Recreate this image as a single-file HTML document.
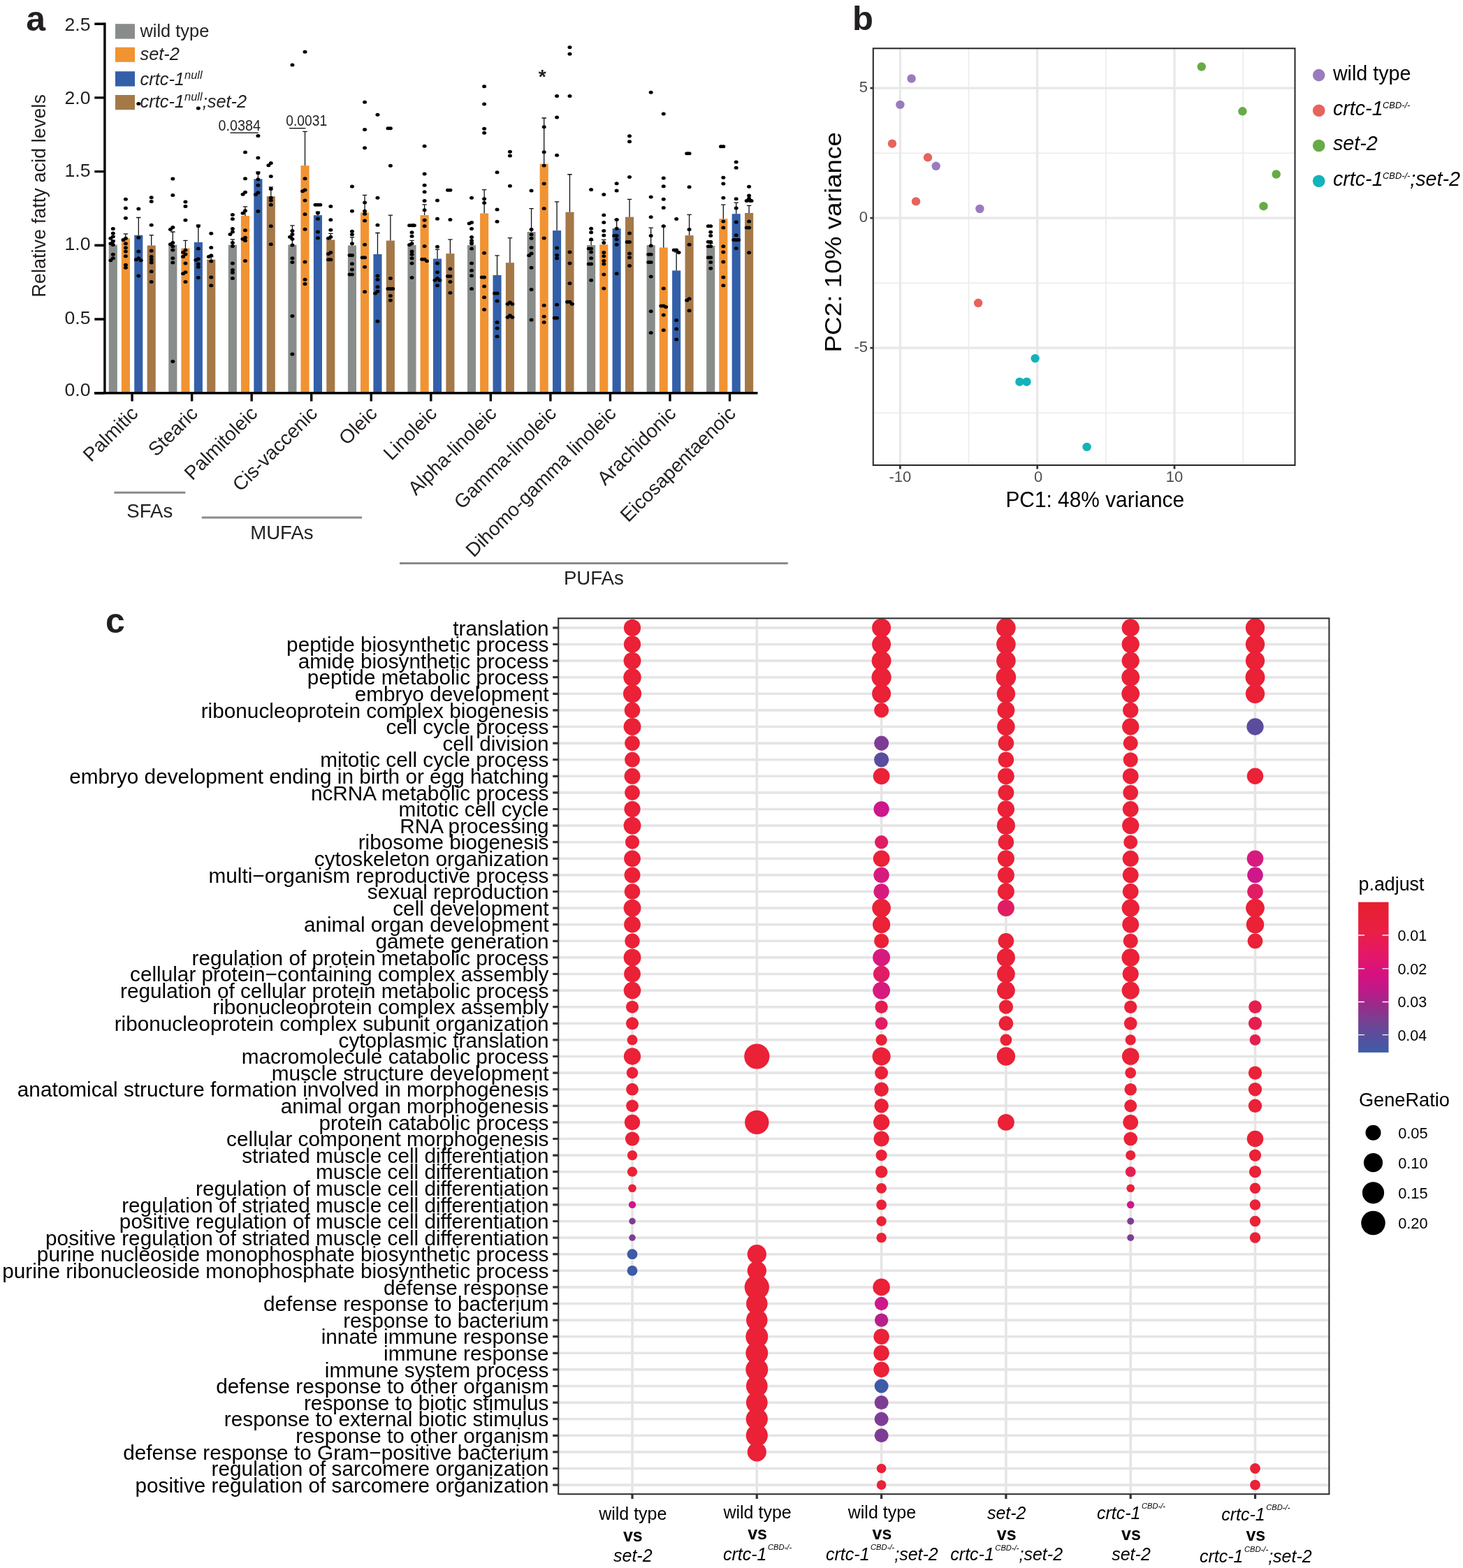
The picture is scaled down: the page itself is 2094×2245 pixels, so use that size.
<!DOCTYPE html>
<html><head><meta charset="utf-8"><title>Figure</title>
<style>
html,body{margin:0;padding:0;background:#fff;}
body{width:2094px;height:2245px;overflow:hidden;}
svg{display:block;}
</style></head>
<body>
<svg width="2094" height="2245" viewBox="0 0 2094 2245">
<rect width="2094" height="2245" fill="#fff"/>
<g font-family="'Liberation Sans', Arial, Helvetica, sans-serif">
<text x="37.3" y="44" font-size="50" font-weight="bold" fill="#231f20">a</text>
<rect x="155.75" y="350.60" width="12.1" height="211.40" fill="#898d8a"/>
<rect x="173.85" y="341.30" width="12.1" height="220.70" fill="#f19332"/>
<rect x="192.25" y="336.65" width="12.1" height="225.35" fill="#335fa9"/>
<rect x="210.65" y="351.45" width="12.1" height="210.55" fill="#a57848"/>
<rect x="241.29" y="350.60" width="12.1" height="211.40" fill="#898d8a"/>
<rect x="259.39" y="355.46" width="12.1" height="206.54" fill="#f19332"/>
<rect x="277.79" y="346.79" width="12.1" height="215.21" fill="#335fa9"/>
<rect x="296.19" y="371.53" width="12.1" height="190.47" fill="#a57848"/>
<rect x="326.83" y="350.60" width="12.1" height="211.40" fill="#898d8a"/>
<rect x="344.93" y="308.95" width="12.1" height="253.05" fill="#f19332"/>
<rect x="363.33" y="256.32" width="12.1" height="305.68" fill="#335fa9"/>
<rect x="381.73" y="281.05" width="12.1" height="280.95" fill="#a57848"/>
<rect x="412.37" y="350.60" width="12.1" height="211.40" fill="#898d8a"/>
<rect x="430.47" y="237.08" width="12.1" height="324.92" fill="#f19332"/>
<rect x="448.87" y="308.11" width="12.1" height="253.89" fill="#335fa9"/>
<rect x="467.27" y="343.41" width="12.1" height="218.59" fill="#a57848"/>
<rect x="497.91" y="351.45" width="12.1" height="210.55" fill="#898d8a"/>
<rect x="516.01" y="304.30" width="12.1" height="257.70" fill="#f19332"/>
<rect x="534.41" y="363.92" width="12.1" height="198.08" fill="#335fa9"/>
<rect x="552.81" y="344.47" width="12.1" height="217.53" fill="#a57848"/>
<rect x="583.45" y="351.02" width="12.1" height="210.98" fill="#898d8a"/>
<rect x="601.55" y="308.11" width="12.1" height="253.89" fill="#f19332"/>
<rect x="619.95" y="370.47" width="12.1" height="191.53" fill="#335fa9"/>
<rect x="638.35" y="363.07" width="12.1" height="198.93" fill="#a57848"/>
<rect x="668.99" y="351.02" width="12.1" height="210.98" fill="#898d8a"/>
<rect x="687.09" y="305.36" width="12.1" height="256.64" fill="#f19332"/>
<rect x="705.49" y="393.94" width="12.1" height="168.06" fill="#335fa9"/>
<rect x="723.89" y="376.18" width="12.1" height="185.82" fill="#a57848"/>
<rect x="754.53" y="332.00" width="12.1" height="230.00" fill="#898d8a"/>
<rect x="772.63" y="234.54" width="12.1" height="327.46" fill="#f19332"/>
<rect x="791.03" y="330.09" width="12.1" height="231.91" fill="#335fa9"/>
<rect x="809.43" y="303.67" width="12.1" height="258.33" fill="#a57848"/>
<rect x="840.07" y="351.02" width="12.1" height="210.98" fill="#898d8a"/>
<rect x="858.17" y="350.18" width="12.1" height="211.82" fill="#f19332"/>
<rect x="876.57" y="327.13" width="12.1" height="234.87" fill="#335fa9"/>
<rect x="894.97" y="310.65" width="12.1" height="251.35" fill="#a57848"/>
<rect x="925.61" y="351.02" width="12.1" height="210.98" fill="#898d8a"/>
<rect x="943.71" y="354.41" width="12.1" height="207.59" fill="#f19332"/>
<rect x="962.11" y="387.38" width="12.1" height="174.62" fill="#335fa9"/>
<rect x="980.51" y="337.07" width="12.1" height="224.93" fill="#a57848"/>
<rect x="1011.15" y="351.87" width="12.1" height="210.13" fill="#898d8a"/>
<rect x="1029.25" y="313.18" width="12.1" height="248.82" fill="#f19332"/>
<rect x="1047.65" y="306.21" width="12.1" height="255.79" fill="#335fa9"/>
<rect x="1066.05" y="304.94" width="12.1" height="257.06" fill="#a57848"/>
<path d="M161.80 350.60V344.26M158.60 344.26H165.00M179.90 341.30V334.96M176.70 334.96H183.10M198.30 336.65V311.49M195.10 311.49H201.50M216.70 351.45V336.65M213.50 336.65H219.90M247.34 350.60V332.00M244.14 332.00H250.54M265.44 355.46V344.47M262.24 344.47H268.64M283.84 346.79V322.27M280.64 322.27H287.04M302.24 371.53V367.51M299.04 367.51H305.44M332.88 350.60V342.78M329.68 342.78H336.08M350.98 308.95V295.85M347.78 295.85H354.18M369.38 256.32V246.17M366.18 246.17H372.58M387.78 281.05V267.94M384.58 267.94H390.98M418.42 350.60V322.91M415.22 322.91H421.62M436.52 237.08V188.46M433.32 188.46H439.72M454.92 308.11V303.03M451.72 303.03H458.12M473.32 343.41V334.32M470.12 334.32H476.52M503.96 351.45V339.61M500.76 339.61H507.16M522.06 304.30V279.36M518.86 279.36H525.26M540.46 363.92V333.48M537.26 333.48H543.66M558.86 344.47V308.11M555.66 308.11H562.06M589.50 351.02V344.47M586.30 344.47H592.70M607.60 308.11V292.89M604.40 292.89H610.80M626.00 370.47V357.15M622.80 357.15H629.20M644.40 363.07V342.78M641.20 342.78H647.60M675.04 351.02V347.43M671.84 347.43H678.24M693.14 305.36V271.54M689.94 271.54H696.34M711.54 393.94V365.82M708.34 365.82H714.74M729.94 376.18V340.66M726.74 340.66H733.14M760.58 332.00V298.60M757.38 298.60H763.78M778.68 234.54V169.01M775.48 169.01H781.88M797.08 330.09V288.87M793.88 288.87H800.28M815.48 303.67V249.76M812.28 249.76H818.68M846.12 351.02V344.47M842.92 344.47H849.32M864.22 350.18V343.41M861.02 343.41H867.42M882.62 327.13V314.45M879.42 314.45H885.82M901.02 310.65V285.28M897.82 285.28H904.22M931.66 351.02V326.08M928.46 326.08H934.86M949.76 354.41V323.75M946.56 323.75H952.96M968.16 387.38V360.96M964.96 360.96H971.36M986.56 337.07V307.47M983.36 307.47H989.76M1017.20 351.87V348.49M1014.00 348.49H1020.40M1035.30 313.18V293.10M1032.10 293.10H1038.50M1053.70 306.21V290.14M1050.50 290.14H1056.90M1072.10 304.94V294.37M1068.90 294.37H1075.30" stroke="#111" stroke-width="1.3" fill="none"/>
<g fill="#000"><ellipse cx="161.80" cy="327.56" rx="3.0" ry="2.5"/><ellipse cx="161.80" cy="333.90" rx="3.0" ry="2.5"/><ellipse cx="161.80" cy="338.76" rx="3.0" ry="2.5"/><ellipse cx="158.40" cy="341.30" rx="3.0" ry="2.5"/><ellipse cx="161.80" cy="345.53" rx="3.0" ry="2.5"/><ellipse cx="158.40" cy="348.70" rx="3.0" ry="2.5"/><ellipse cx="161.80" cy="350.60" rx="3.0" ry="2.5"/><ellipse cx="161.80" cy="364.34" rx="3.0" ry="2.5"/><ellipse cx="161.80" cy="369.63" rx="3.0" ry="2.5"/><ellipse cx="158.40" cy="372.80" rx="3.0" ry="2.5"/><ellipse cx="179.90" cy="285.28" rx="3.0" ry="2.5"/><ellipse cx="179.90" cy="297.96" rx="3.0" ry="2.5"/><ellipse cx="179.90" cy="312.34" rx="3.0" ry="2.5"/><ellipse cx="179.90" cy="341.30" rx="3.0" ry="2.5"/><ellipse cx="176.50" cy="343.41" rx="3.0" ry="2.5"/><ellipse cx="179.90" cy="348.70" rx="3.0" ry="2.5"/><ellipse cx="179.90" cy="354.83" rx="3.0" ry="2.5"/><ellipse cx="179.90" cy="360.11" rx="3.0" ry="2.5"/><ellipse cx="179.90" cy="366.67" rx="3.0" ry="2.5"/><ellipse cx="179.90" cy="379.14" rx="3.0" ry="2.5"/><ellipse cx="179.90" cy="383.37" rx="3.0" ry="2.5"/><ellipse cx="198.30" cy="148.50" rx="3.0" ry="2.5"/><ellipse cx="198.30" cy="299.02" rx="3.0" ry="2.5"/><ellipse cx="198.30" cy="340.24" rx="3.0" ry="2.5"/><ellipse cx="198.30" cy="360.11" rx="3.0" ry="2.5"/><ellipse cx="198.30" cy="369.63" rx="3.0" ry="2.5"/><ellipse cx="194.90" cy="371.74" rx="3.0" ry="2.5"/><ellipse cx="201.70" cy="372.80" rx="3.0" ry="2.5"/><ellipse cx="198.30" cy="394.99" rx="3.0" ry="2.5"/><ellipse cx="216.70" cy="282.74" rx="3.0" ry="2.5"/><ellipse cx="216.70" cy="288.45" rx="3.0" ry="2.5"/><ellipse cx="216.70" cy="322.27" rx="3.0" ry="2.5"/><ellipse cx="216.70" cy="359.06" rx="3.0" ry="2.5"/><ellipse cx="216.70" cy="367.51" rx="3.0" ry="2.5"/><ellipse cx="216.70" cy="371.74" rx="3.0" ry="2.5"/><ellipse cx="216.70" cy="375.97" rx="3.0" ry="2.5"/><ellipse cx="216.70" cy="388.65" rx="3.0" ry="2.5"/><ellipse cx="216.70" cy="403.45" rx="3.0" ry="2.5"/><ellipse cx="247.34" cy="256.10" rx="3.0" ry="2.5"/><ellipse cx="247.34" cy="279.57" rx="3.0" ry="2.5"/><ellipse cx="247.34" cy="325.44" rx="3.0" ry="2.5"/><ellipse cx="243.94" cy="328.61" rx="3.0" ry="2.5"/><ellipse cx="247.34" cy="347.43" rx="3.0" ry="2.5"/><ellipse cx="243.94" cy="349.75" rx="3.0" ry="2.5"/><ellipse cx="247.34" cy="352.71" rx="3.0" ry="2.5"/><ellipse cx="247.34" cy="358.00" rx="3.0" ry="2.5"/><ellipse cx="247.34" cy="369.63" rx="3.0" ry="2.5"/><ellipse cx="247.34" cy="375.97" rx="3.0" ry="2.5"/><ellipse cx="247.34" cy="517.61" rx="3.0" ry="2.5"/><ellipse cx="265.44" cy="289.08" rx="3.0" ry="2.5"/><ellipse cx="265.44" cy="295.42" rx="3.0" ry="2.5"/><ellipse cx="265.44" cy="315.30" rx="3.0" ry="2.5"/><ellipse cx="265.44" cy="358.00" rx="3.0" ry="2.5"/><ellipse cx="262.04" cy="361.17" rx="3.0" ry="2.5"/><ellipse cx="265.44" cy="363.92" rx="3.0" ry="2.5"/><ellipse cx="262.04" cy="367.51" rx="3.0" ry="2.5"/><ellipse cx="265.44" cy="377.02" rx="3.0" ry="2.5"/><ellipse cx="265.44" cy="389.71" rx="3.0" ry="2.5"/><ellipse cx="262.04" cy="391.82" rx="3.0" ry="2.5"/><ellipse cx="265.44" cy="403.45" rx="3.0" ry="2.5"/><ellipse cx="283.84" cy="155.06" rx="3.0" ry="2.5"/><ellipse cx="283.84" cy="323.75" rx="3.0" ry="2.5"/><ellipse cx="283.84" cy="356.10" rx="3.0" ry="2.5"/><ellipse cx="283.84" cy="370.68" rx="3.0" ry="2.5"/><ellipse cx="280.44" cy="372.37" rx="3.0" ry="2.5"/><ellipse cx="283.84" cy="378.08" rx="3.0" ry="2.5"/><ellipse cx="283.84" cy="382.31" rx="3.0" ry="2.5"/><ellipse cx="283.84" cy="397.53" rx="3.0" ry="2.5"/><ellipse cx="302.24" cy="334.32" rx="3.0" ry="2.5"/><ellipse cx="302.24" cy="354.41" rx="3.0" ry="2.5"/><ellipse cx="302.24" cy="365.82" rx="3.0" ry="2.5"/><ellipse cx="298.84" cy="367.51" rx="3.0" ry="2.5"/><ellipse cx="302.24" cy="374.07" rx="3.0" ry="2.5"/><ellipse cx="302.24" cy="396.90" rx="3.0" ry="2.5"/><ellipse cx="302.24" cy="408.74" rx="3.0" ry="2.5"/><ellipse cx="332.88" cy="307.47" rx="3.0" ry="2.5"/><ellipse cx="332.88" cy="313.61" rx="3.0" ry="2.5"/><ellipse cx="332.88" cy="327.56" rx="3.0" ry="2.5"/><ellipse cx="332.88" cy="332.00" rx="3.0" ry="2.5"/><ellipse cx="329.48" cy="335.59" rx="3.0" ry="2.5"/><ellipse cx="332.88" cy="347.43" rx="3.0" ry="2.5"/><ellipse cx="332.88" cy="352.50" rx="3.0" ry="2.5"/><ellipse cx="332.88" cy="377.02" rx="3.0" ry="2.5"/><ellipse cx="332.88" cy="386.54" rx="3.0" ry="2.5"/><ellipse cx="332.88" cy="390.34" rx="3.0" ry="2.5"/><ellipse cx="332.88" cy="398.38" rx="3.0" ry="2.5"/><ellipse cx="350.98" cy="218.05" rx="3.0" ry="2.5"/><ellipse cx="350.98" cy="255.68" rx="3.0" ry="2.5"/><ellipse cx="350.98" cy="275.13" rx="3.0" ry="2.5"/><ellipse cx="347.58" cy="278.30" rx="3.0" ry="2.5"/><ellipse cx="350.98" cy="301.77" rx="3.0" ry="2.5"/><ellipse cx="347.58" cy="305.36" rx="3.0" ry="2.5"/><ellipse cx="350.98" cy="329.67" rx="3.0" ry="2.5"/><ellipse cx="350.98" cy="340.24" rx="3.0" ry="2.5"/><ellipse cx="347.58" cy="342.36" rx="3.0" ry="2.5"/><ellipse cx="350.98" cy="344.47" rx="3.0" ry="2.5"/><ellipse cx="350.98" cy="373.43" rx="3.0" ry="2.5"/><ellipse cx="369.38" cy="194.38" rx="3.0" ry="2.5"/><ellipse cx="369.38" cy="226.09" rx="3.0" ry="2.5"/><ellipse cx="369.38" cy="247.65" rx="3.0" ry="2.5"/><ellipse cx="369.38" cy="256.74" rx="3.0" ry="2.5"/><ellipse cx="369.38" cy="265.19" rx="3.0" ry="2.5"/><ellipse cx="369.38" cy="275.76" rx="3.0" ry="2.5"/><ellipse cx="365.98" cy="278.51" rx="3.0" ry="2.5"/><ellipse cx="369.38" cy="302.61" rx="3.0" ry="2.5"/><ellipse cx="387.78" cy="233.48" rx="3.0" ry="2.5"/><ellipse cx="384.38" cy="236.66" rx="3.0" ry="2.5"/><ellipse cx="387.78" cy="252.51" rx="3.0" ry="2.5"/><ellipse cx="387.78" cy="270.48" rx="3.0" ry="2.5"/><ellipse cx="387.78" cy="283.16" rx="3.0" ry="2.5"/><ellipse cx="387.78" cy="286.97" rx="3.0" ry="2.5"/><ellipse cx="387.78" cy="293.31" rx="3.0" ry="2.5"/><ellipse cx="387.78" cy="323.75" rx="3.0" ry="2.5"/><ellipse cx="387.78" cy="349.75" rx="3.0" ry="2.5"/><ellipse cx="418.42" cy="92.90" rx="3.0" ry="2.5"/><ellipse cx="418.42" cy="330.52" rx="3.0" ry="2.5"/><ellipse cx="418.42" cy="335.59" rx="3.0" ry="2.5"/><ellipse cx="415.02" cy="339.18" rx="3.0" ry="2.5"/><ellipse cx="418.42" cy="342.36" rx="3.0" ry="2.5"/><ellipse cx="418.42" cy="351.02" rx="3.0" ry="2.5"/><ellipse cx="418.42" cy="369.63" rx="3.0" ry="2.5"/><ellipse cx="418.42" cy="375.55" rx="3.0" ry="2.5"/><ellipse cx="418.42" cy="452.49" rx="3.0" ry="2.5"/><ellipse cx="418.42" cy="507.04" rx="3.0" ry="2.5"/><ellipse cx="436.52" cy="74.30" rx="3.0" ry="2.5"/><ellipse cx="436.52" cy="255.68" rx="3.0" ry="2.5"/><ellipse cx="436.52" cy="271.96" rx="3.0" ry="2.5"/><ellipse cx="433.12" cy="273.65" rx="3.0" ry="2.5"/><ellipse cx="436.52" cy="286.97" rx="3.0" ry="2.5"/><ellipse cx="436.52" cy="306.84" rx="3.0" ry="2.5"/><ellipse cx="436.52" cy="328.19" rx="3.0" ry="2.5"/><ellipse cx="436.52" cy="374.91" rx="3.0" ry="2.5"/><ellipse cx="436.52" cy="400.28" rx="3.0" ry="2.5"/><ellipse cx="436.52" cy="406.62" rx="3.0" ry="2.5"/><ellipse cx="454.92" cy="293.31" rx="3.0" ry="2.5"/><ellipse cx="451.52" cy="293.31" rx="3.0" ry="2.5"/><ellipse cx="458.32" cy="293.31" rx="3.0" ry="2.5"/><ellipse cx="454.92" cy="304.94" rx="3.0" ry="2.5"/><ellipse cx="454.92" cy="313.18" rx="3.0" ry="2.5"/><ellipse cx="454.92" cy="332.00" rx="3.0" ry="2.5"/><ellipse cx="454.92" cy="340.66" rx="3.0" ry="2.5"/><ellipse cx="473.32" cy="295.42" rx="3.0" ry="2.5"/><ellipse cx="473.32" cy="314.87" rx="3.0" ry="2.5"/><ellipse cx="473.32" cy="329.25" rx="3.0" ry="2.5"/><ellipse cx="473.32" cy="339.18" rx="3.0" ry="2.5"/><ellipse cx="469.92" cy="341.30" rx="3.0" ry="2.5"/><ellipse cx="473.32" cy="361.38" rx="3.0" ry="2.5"/><ellipse cx="469.92" cy="363.50" rx="3.0" ry="2.5"/><ellipse cx="473.32" cy="371.74" rx="3.0" ry="2.5"/><ellipse cx="469.92" cy="371.74" rx="3.0" ry="2.5"/><ellipse cx="503.96" cy="266.89" rx="3.0" ry="2.5"/><ellipse cx="503.96" cy="302.19" rx="3.0" ry="2.5"/><ellipse cx="503.96" cy="331.36" rx="3.0" ry="2.5"/><ellipse cx="503.96" cy="335.80" rx="3.0" ry="2.5"/><ellipse cx="503.96" cy="348.70" rx="3.0" ry="2.5"/><ellipse cx="503.96" cy="365.40" rx="3.0" ry="2.5"/><ellipse cx="500.56" cy="365.40" rx="3.0" ry="2.5"/><ellipse cx="503.96" cy="377.87" rx="3.0" ry="2.5"/><ellipse cx="503.96" cy="386.12" rx="3.0" ry="2.5"/><ellipse cx="503.96" cy="392.88" rx="3.0" ry="2.5"/><ellipse cx="500.56" cy="392.88" rx="3.0" ry="2.5"/><ellipse cx="522.06" cy="146.18" rx="3.0" ry="2.5"/><ellipse cx="522.06" cy="185.50" rx="3.0" ry="2.5"/><ellipse cx="522.06" cy="211.71" rx="3.0" ry="2.5"/><ellipse cx="522.06" cy="289.93" rx="3.0" ry="2.5"/><ellipse cx="522.06" cy="302.19" rx="3.0" ry="2.5"/><ellipse cx="522.06" cy="306.21" rx="3.0" ry="2.5"/><ellipse cx="522.06" cy="315.93" rx="3.0" ry="2.5"/><ellipse cx="522.06" cy="350.18" rx="3.0" ry="2.5"/><ellipse cx="522.06" cy="368.78" rx="3.0" ry="2.5"/><ellipse cx="518.66" cy="368.78" rx="3.0" ry="2.5"/><ellipse cx="522.06" cy="382.31" rx="3.0" ry="2.5"/><ellipse cx="522.06" cy="417.83" rx="3.0" ry="2.5"/><ellipse cx="540.46" cy="164.15" rx="3.0" ry="2.5"/><ellipse cx="540.46" cy="283.16" rx="3.0" ry="2.5"/><ellipse cx="540.46" cy="322.27" rx="3.0" ry="2.5"/><ellipse cx="540.46" cy="394.99" rx="3.0" ry="2.5"/><ellipse cx="540.46" cy="400.28" rx="3.0" ry="2.5"/><ellipse cx="540.46" cy="410.85" rx="3.0" ry="2.5"/><ellipse cx="540.46" cy="417.19" rx="3.0" ry="2.5"/><ellipse cx="537.06" cy="419.94" rx="3.0" ry="2.5"/><ellipse cx="540.46" cy="460.11" rx="3.0" ry="2.5"/><ellipse cx="558.86" cy="183.81" rx="3.0" ry="2.5"/><ellipse cx="555.46" cy="183.81" rx="3.0" ry="2.5"/><ellipse cx="558.86" cy="237.29" rx="3.0" ry="2.5"/><ellipse cx="558.86" cy="398.38" rx="3.0" ry="2.5"/><ellipse cx="558.86" cy="413.60" rx="3.0" ry="2.5"/><ellipse cx="555.46" cy="413.60" rx="3.0" ry="2.5"/><ellipse cx="562.26" cy="413.60" rx="3.0" ry="2.5"/><ellipse cx="558.86" cy="423.53" rx="3.0" ry="2.5"/><ellipse cx="558.86" cy="429.88" rx="3.0" ry="2.5"/><ellipse cx="589.50" cy="322.70" rx="3.0" ry="2.5"/><ellipse cx="586.10" cy="322.70" rx="3.0" ry="2.5"/><ellipse cx="592.90" cy="322.70" rx="3.0" ry="2.5"/><ellipse cx="591.20" cy="322.70" rx="3.0" ry="2.5"/><ellipse cx="589.50" cy="332.84" rx="3.0" ry="2.5"/><ellipse cx="589.50" cy="338.13" rx="3.0" ry="2.5"/><ellipse cx="589.50" cy="348.70" rx="3.0" ry="2.5"/><ellipse cx="586.10" cy="350.60" rx="3.0" ry="2.5"/><ellipse cx="589.50" cy="360.11" rx="3.0" ry="2.5"/><ellipse cx="589.50" cy="364.34" rx="3.0" ry="2.5"/><ellipse cx="589.50" cy="369.63" rx="3.0" ry="2.5"/><ellipse cx="589.50" cy="377.02" rx="3.0" ry="2.5"/><ellipse cx="589.50" cy="397.53" rx="3.0" ry="2.5"/><ellipse cx="607.60" cy="209.17" rx="3.0" ry="2.5"/><ellipse cx="607.60" cy="248.92" rx="3.0" ry="2.5"/><ellipse cx="607.60" cy="265.19" rx="3.0" ry="2.5"/><ellipse cx="607.60" cy="274.71" rx="3.0" ry="2.5"/><ellipse cx="607.60" cy="287.39" rx="3.0" ry="2.5"/><ellipse cx="607.60" cy="300.71" rx="3.0" ry="2.5"/><ellipse cx="607.60" cy="315.30" rx="3.0" ry="2.5"/><ellipse cx="607.60" cy="323.75" rx="3.0" ry="2.5"/><ellipse cx="607.60" cy="352.50" rx="3.0" ry="2.5"/><ellipse cx="607.60" cy="371.32" rx="3.0" ry="2.5"/><ellipse cx="604.20" cy="371.32" rx="3.0" ry="2.5"/><ellipse cx="611.00" cy="373.85" rx="3.0" ry="2.5"/><ellipse cx="626.00" cy="286.97" rx="3.0" ry="2.5"/><ellipse cx="626.00" cy="313.18" rx="3.0" ry="2.5"/><ellipse cx="626.00" cy="353.35" rx="3.0" ry="2.5"/><ellipse cx="626.00" cy="377.02" rx="3.0" ry="2.5"/><ellipse cx="626.00" cy="389.71" rx="3.0" ry="2.5"/><ellipse cx="626.00" cy="398.38" rx="3.0" ry="2.5"/><ellipse cx="622.60" cy="401.34" rx="3.0" ry="2.5"/><ellipse cx="629.40" cy="401.34" rx="3.0" ry="2.5"/><ellipse cx="626.00" cy="408.74" rx="3.0" ry="2.5"/><ellipse cx="644.40" cy="272.17" rx="3.0" ry="2.5"/><ellipse cx="641.00" cy="272.17" rx="3.0" ry="2.5"/><ellipse cx="644.40" cy="314.45" rx="3.0" ry="2.5"/><ellipse cx="644.40" cy="385.06" rx="3.0" ry="2.5"/><ellipse cx="644.40" cy="395.42" rx="3.0" ry="2.5"/><ellipse cx="641.00" cy="395.42" rx="3.0" ry="2.5"/><ellipse cx="644.40" cy="403.45" rx="3.0" ry="2.5"/><ellipse cx="644.40" cy="419.30" rx="3.0" ry="2.5"/><ellipse cx="675.04" cy="283.16" rx="3.0" ry="2.5"/><ellipse cx="675.04" cy="318.47" rx="3.0" ry="2.5"/><ellipse cx="671.64" cy="319.95" rx="3.0" ry="2.5"/><ellipse cx="675.04" cy="327.56" rx="3.0" ry="2.5"/><ellipse cx="675.04" cy="339.61" rx="3.0" ry="2.5"/><ellipse cx="675.04" cy="344.47" rx="3.0" ry="2.5"/><ellipse cx="675.04" cy="348.70" rx="3.0" ry="2.5"/><ellipse cx="675.04" cy="356.10" rx="3.0" ry="2.5"/><ellipse cx="675.04" cy="377.02" rx="3.0" ry="2.5"/><ellipse cx="675.04" cy="387.17" rx="3.0" ry="2.5"/><ellipse cx="675.04" cy="394.78" rx="3.0" ry="2.5"/><ellipse cx="675.04" cy="413.60" rx="3.0" ry="2.5"/><ellipse cx="693.14" cy="123.77" rx="3.0" ry="2.5"/><ellipse cx="693.14" cy="148.92" rx="3.0" ry="2.5"/><ellipse cx="693.14" cy="184.23" rx="3.0" ry="2.5"/><ellipse cx="693.14" cy="190.15" rx="3.0" ry="2.5"/><ellipse cx="693.14" cy="284.85" rx="3.0" ry="2.5"/><ellipse cx="693.14" cy="290.56" rx="3.0" ry="2.5"/><ellipse cx="693.14" cy="362.23" rx="3.0" ry="2.5"/><ellipse cx="693.14" cy="396.90" rx="3.0" ry="2.5"/><ellipse cx="689.74" cy="396.90" rx="3.0" ry="2.5"/><ellipse cx="693.14" cy="410.00" rx="3.0" ry="2.5"/><ellipse cx="693.14" cy="425.65" rx="3.0" ry="2.5"/><ellipse cx="693.14" cy="443.19" rx="3.0" ry="2.5"/><ellipse cx="711.54" cy="246.80" rx="3.0" ry="2.5"/><ellipse cx="711.54" cy="300.08" rx="3.0" ry="2.5"/><ellipse cx="711.54" cy="317.20" rx="3.0" ry="2.5"/><ellipse cx="711.54" cy="419.94" rx="3.0" ry="2.5"/><ellipse cx="708.14" cy="419.94" rx="3.0" ry="2.5"/><ellipse cx="711.54" cy="430.93" rx="3.0" ry="2.5"/><ellipse cx="711.54" cy="461.59" rx="3.0" ry="2.5"/><ellipse cx="711.54" cy="470.04" rx="3.0" ry="2.5"/><ellipse cx="711.54" cy="481.67" rx="3.0" ry="2.5"/><ellipse cx="729.94" cy="217.21" rx="3.0" ry="2.5"/><ellipse cx="729.94" cy="222.91" rx="3.0" ry="2.5"/><ellipse cx="729.94" cy="266.25" rx="3.0" ry="2.5"/><ellipse cx="729.94" cy="433.05" rx="3.0" ry="2.5"/><ellipse cx="726.54" cy="435.16" rx="3.0" ry="2.5"/><ellipse cx="733.34" cy="435.16" rx="3.0" ry="2.5"/><ellipse cx="729.94" cy="451.65" rx="3.0" ry="2.5"/><ellipse cx="726.54" cy="454.19" rx="3.0" ry="2.5"/><ellipse cx="733.34" cy="454.19" rx="3.0" ry="2.5"/><ellipse cx="760.58" cy="273.02" rx="3.0" ry="2.5"/><ellipse cx="760.58" cy="328.61" rx="3.0" ry="2.5"/><ellipse cx="760.58" cy="335.80" rx="3.0" ry="2.5"/><ellipse cx="760.58" cy="341.30" rx="3.0" ry="2.5"/><ellipse cx="760.58" cy="354.62" rx="3.0" ry="2.5"/><ellipse cx="760.58" cy="363.07" rx="3.0" ry="2.5"/><ellipse cx="757.18" cy="365.82" rx="3.0" ry="2.5"/><ellipse cx="760.58" cy="383.37" rx="3.0" ry="2.5"/><ellipse cx="760.58" cy="414.44" rx="3.0" ry="2.5"/><ellipse cx="760.58" cy="457.99" rx="3.0" ry="2.5"/><ellipse cx="778.68" cy="181.69" rx="3.0" ry="2.5"/><ellipse cx="778.68" cy="217.63" rx="3.0" ry="2.5"/><ellipse cx="778.68" cy="237.08" rx="3.0" ry="2.5"/><ellipse cx="778.68" cy="263.08" rx="3.0" ry="2.5"/><ellipse cx="778.68" cy="298.38" rx="3.0" ry="2.5"/><ellipse cx="778.68" cy="340.88" rx="3.0" ry="2.5"/><ellipse cx="778.68" cy="437.27" rx="3.0" ry="2.5"/><ellipse cx="778.68" cy="453.13" rx="3.0" ry="2.5"/><ellipse cx="778.68" cy="461.59" rx="3.0" ry="2.5"/><ellipse cx="797.08" cy="137.51" rx="3.0" ry="2.5"/><ellipse cx="797.08" cy="167.95" rx="3.0" ry="2.5"/><ellipse cx="797.08" cy="222.28" rx="3.0" ry="2.5"/><ellipse cx="797.08" cy="355.04" rx="3.0" ry="2.5"/><ellipse cx="797.08" cy="365.19" rx="3.0" ry="2.5"/><ellipse cx="797.08" cy="369.63" rx="3.0" ry="2.5"/><ellipse cx="797.08" cy="436.22" rx="3.0" ry="2.5"/><ellipse cx="797.08" cy="455.24" rx="3.0" ry="2.5"/><ellipse cx="793.68" cy="455.24" rx="3.0" ry="2.5"/><ellipse cx="815.48" cy="67.75" rx="3.0" ry="2.5"/><ellipse cx="815.48" cy="77.26" rx="3.0" ry="2.5"/><ellipse cx="815.48" cy="137.51" rx="3.0" ry="2.5"/><ellipse cx="815.48" cy="360.96" rx="3.0" ry="2.5"/><ellipse cx="815.48" cy="377.02" rx="3.0" ry="2.5"/><ellipse cx="815.48" cy="405.78" rx="3.0" ry="2.5"/><ellipse cx="815.48" cy="432.20" rx="3.0" ry="2.5"/><ellipse cx="812.08" cy="432.20" rx="3.0" ry="2.5"/><ellipse cx="818.88" cy="435.16" rx="3.0" ry="2.5"/><ellipse cx="846.12" cy="271.54" rx="3.0" ry="2.5"/><ellipse cx="846.12" cy="327.13" rx="3.0" ry="2.5"/><ellipse cx="846.12" cy="332.84" rx="3.0" ry="2.5"/><ellipse cx="846.12" cy="342.78" rx="3.0" ry="2.5"/><ellipse cx="846.12" cy="356.10" rx="3.0" ry="2.5"/><ellipse cx="842.72" cy="356.10" rx="3.0" ry="2.5"/><ellipse cx="846.12" cy="360.96" rx="3.0" ry="2.5"/><ellipse cx="846.12" cy="369.63" rx="3.0" ry="2.5"/><ellipse cx="846.12" cy="378.08" rx="3.0" ry="2.5"/><ellipse cx="842.72" cy="378.08" rx="3.0" ry="2.5"/><ellipse cx="846.12" cy="401.34" rx="3.0" ry="2.5"/><ellipse cx="864.22" cy="278.51" rx="3.0" ry="2.5"/><ellipse cx="864.22" cy="308.11" rx="3.0" ry="2.5"/><ellipse cx="864.22" cy="318.47" rx="3.0" ry="2.5"/><ellipse cx="864.22" cy="330.52" rx="3.0" ry="2.5"/><ellipse cx="864.22" cy="337.07" rx="3.0" ry="2.5"/><ellipse cx="864.22" cy="347.43" rx="3.0" ry="2.5"/><ellipse cx="864.22" cy="361.38" rx="3.0" ry="2.5"/><ellipse cx="864.22" cy="366.67" rx="3.0" ry="2.5"/><ellipse cx="864.22" cy="373.43" rx="3.0" ry="2.5"/><ellipse cx="864.22" cy="378.08" rx="3.0" ry="2.5"/><ellipse cx="864.22" cy="392.88" rx="3.0" ry="2.5"/><ellipse cx="864.22" cy="412.96" rx="3.0" ry="2.5"/><ellipse cx="882.62" cy="262.66" rx="3.0" ry="2.5"/><ellipse cx="882.62" cy="273.02" rx="3.0" ry="2.5"/><ellipse cx="882.62" cy="314.45" rx="3.0" ry="2.5"/><ellipse cx="882.62" cy="327.13" rx="3.0" ry="2.5"/><ellipse cx="882.62" cy="337.49" rx="3.0" ry="2.5"/><ellipse cx="879.22" cy="337.49" rx="3.0" ry="2.5"/><ellipse cx="882.62" cy="342.78" rx="3.0" ry="2.5"/><ellipse cx="882.62" cy="350.18" rx="3.0" ry="2.5"/><ellipse cx="882.62" cy="391.82" rx="3.0" ry="2.5"/><ellipse cx="901.02" cy="194.80" rx="3.0" ry="2.5"/><ellipse cx="901.02" cy="202.83" rx="3.0" ry="2.5"/><ellipse cx="901.02" cy="253.57" rx="3.0" ry="2.5"/><ellipse cx="901.02" cy="334.11" rx="3.0" ry="2.5"/><ellipse cx="901.02" cy="346.58" rx="3.0" ry="2.5"/><ellipse cx="897.62" cy="346.58" rx="3.0" ry="2.5"/><ellipse cx="901.02" cy="363.07" rx="3.0" ry="2.5"/><ellipse cx="901.02" cy="368.78" rx="3.0" ry="2.5"/><ellipse cx="901.02" cy="380.41" rx="3.0" ry="2.5"/><ellipse cx="931.66" cy="132.22" rx="3.0" ry="2.5"/><ellipse cx="931.66" cy="282.11" rx="3.0" ry="2.5"/><ellipse cx="931.66" cy="310.65" rx="3.0" ry="2.5"/><ellipse cx="931.66" cy="337.49" rx="3.0" ry="2.5"/><ellipse cx="931.66" cy="351.87" rx="3.0" ry="2.5"/><ellipse cx="931.66" cy="364.34" rx="3.0" ry="2.5"/><ellipse cx="928.26" cy="364.34" rx="3.0" ry="2.5"/><ellipse cx="931.66" cy="375.55" rx="3.0" ry="2.5"/><ellipse cx="928.26" cy="375.55" rx="3.0" ry="2.5"/><ellipse cx="931.66" cy="396.05" rx="3.0" ry="2.5"/><ellipse cx="931.66" cy="445.73" rx="3.0" ry="2.5"/><ellipse cx="931.66" cy="476.38" rx="3.0" ry="2.5"/><ellipse cx="949.76" cy="163.09" rx="3.0" ry="2.5"/><ellipse cx="949.76" cy="255.05" rx="3.0" ry="2.5"/><ellipse cx="949.76" cy="266.67" rx="3.0" ry="2.5"/><ellipse cx="949.76" cy="285.28" rx="3.0" ry="2.5"/><ellipse cx="949.76" cy="297.54" rx="3.0" ry="2.5"/><ellipse cx="949.76" cy="323.75" rx="3.0" ry="2.5"/><ellipse cx="949.76" cy="412.96" rx="3.0" ry="2.5"/><ellipse cx="949.76" cy="437.91" rx="3.0" ry="2.5"/><ellipse cx="946.36" cy="437.91" rx="3.0" ry="2.5"/><ellipse cx="953.16" cy="439.39" rx="3.0" ry="2.5"/><ellipse cx="949.76" cy="451.01" rx="3.0" ry="2.5"/><ellipse cx="949.76" cy="472.79" rx="3.0" ry="2.5"/><ellipse cx="968.16" cy="313.61" rx="3.0" ry="2.5"/><ellipse cx="968.16" cy="358.00" rx="3.0" ry="2.5"/><ellipse cx="964.76" cy="358.00" rx="3.0" ry="2.5"/><ellipse cx="971.56" cy="361.38" rx="3.0" ry="2.5"/><ellipse cx="968.16" cy="458.41" rx="3.0" ry="2.5"/><ellipse cx="968.16" cy="471.10" rx="3.0" ry="2.5"/><ellipse cx="968.16" cy="485.90" rx="3.0" ry="2.5"/><ellipse cx="986.56" cy="219.74" rx="3.0" ry="2.5"/><ellipse cx="983.16" cy="219.74" rx="3.0" ry="2.5"/><ellipse cx="986.56" cy="267.73" rx="3.0" ry="2.5"/><ellipse cx="986.56" cy="328.61" rx="3.0" ry="2.5"/><ellipse cx="986.56" cy="350.18" rx="3.0" ry="2.5"/><ellipse cx="986.56" cy="427.76" rx="3.0" ry="2.5"/><ellipse cx="983.16" cy="429.88" rx="3.0" ry="2.5"/><ellipse cx="986.56" cy="444.67" rx="3.0" ry="2.5"/><ellipse cx="1017.20" cy="323.75" rx="3.0" ry="2.5"/><ellipse cx="1013.80" cy="323.75" rx="3.0" ry="2.5"/><ellipse cx="1017.20" cy="332.21" rx="3.0" ry="2.5"/><ellipse cx="1017.20" cy="337.49" rx="3.0" ry="2.5"/><ellipse cx="1017.20" cy="346.37" rx="3.0" ry="2.5"/><ellipse cx="1013.80" cy="346.37" rx="3.0" ry="2.5"/><ellipse cx="1017.20" cy="352.71" rx="3.0" ry="2.5"/><ellipse cx="1013.80" cy="352.71" rx="3.0" ry="2.5"/><ellipse cx="1017.20" cy="368.78" rx="3.0" ry="2.5"/><ellipse cx="1013.80" cy="368.78" rx="3.0" ry="2.5"/><ellipse cx="1017.20" cy="375.55" rx="3.0" ry="2.5"/><ellipse cx="1017.20" cy="384.21" rx="3.0" ry="2.5"/><ellipse cx="1035.30" cy="209.81" rx="3.0" ry="2.5"/><ellipse cx="1031.90" cy="209.81" rx="3.0" ry="2.5"/><ellipse cx="1035.30" cy="254.20" rx="3.0" ry="2.5"/><ellipse cx="1035.30" cy="263.08" rx="3.0" ry="2.5"/><ellipse cx="1035.30" cy="283.16" rx="3.0" ry="2.5"/><ellipse cx="1035.30" cy="316.99" rx="3.0" ry="2.5"/><ellipse cx="1035.30" cy="326.08" rx="3.0" ry="2.5"/><ellipse cx="1035.30" cy="352.71" rx="3.0" ry="2.5"/><ellipse cx="1035.30" cy="360.96" rx="3.0" ry="2.5"/><ellipse cx="1035.30" cy="374.91" rx="3.0" ry="2.5"/><ellipse cx="1035.30" cy="397.11" rx="3.0" ry="2.5"/><ellipse cx="1035.30" cy="408.74" rx="3.0" ry="2.5"/><ellipse cx="1053.70" cy="232.00" rx="3.0" ry="2.5"/><ellipse cx="1053.70" cy="240.25" rx="3.0" ry="2.5"/><ellipse cx="1053.70" cy="284.64" rx="3.0" ry="2.5"/><ellipse cx="1053.70" cy="297.96" rx="3.0" ry="2.5"/><ellipse cx="1053.70" cy="318.04" rx="3.0" ry="2.5"/><ellipse cx="1053.70" cy="336.65" rx="3.0" ry="2.5"/><ellipse cx="1053.70" cy="343.41" rx="3.0" ry="2.5"/><ellipse cx="1050.30" cy="343.41" rx="3.0" ry="2.5"/><ellipse cx="1057.10" cy="343.41" rx="3.0" ry="2.5"/><ellipse cx="1053.70" cy="355.46" rx="3.0" ry="2.5"/><ellipse cx="1072.10" cy="267.31" rx="3.0" ry="2.5"/><ellipse cx="1072.10" cy="279.99" rx="3.0" ry="2.5"/><ellipse cx="1072.10" cy="284.22" rx="3.0" ry="2.5"/><ellipse cx="1068.70" cy="287.39" rx="3.0" ry="2.5"/><ellipse cx="1075.50" cy="287.39" rx="3.0" ry="2.5"/><ellipse cx="1073.80" cy="287.39" rx="3.0" ry="2.5"/><ellipse cx="1072.10" cy="316.99" rx="3.0" ry="2.5"/><ellipse cx="1072.10" cy="326.08" rx="3.0" ry="2.5"/><ellipse cx="1068.70" cy="326.08" rx="3.0" ry="2.5"/><ellipse cx="1072.10" cy="361.80" rx="3.0" ry="2.5"/></g>
<path d="M149.9 32.50V564.40M135 562.7H1084.5" stroke="#000" stroke-width="3.4" fill="none"/>
<path d="M135.3 562.70H149.9M135.3 457.00H149.9M135.3 351.30H149.9M135.3 245.60H149.9M135.3 139.90H149.9M135.3 34.20H149.9M189.10 562.7V574.5M274.64 562.7V574.5M360.18 562.7V574.5M445.72 562.7V574.5M531.26 562.7V574.5M616.80 562.7V574.5M702.34 562.7V574.5M787.88 562.7V574.5M873.42 562.7V574.5M958.96 562.7V574.5M1044.50 562.7V574.5" stroke="#000" stroke-width="3.4" fill="none"/>
<text x="129.5" y="567.25" font-size="26.6" text-anchor="end" fill="#231f20">0.0</text>
<text x="129.5" y="463.70" font-size="26.6" text-anchor="end" fill="#231f20">0.5</text>
<text x="129.5" y="358.00" font-size="26.6" text-anchor="end" fill="#231f20">1.0</text>
<text x="129.5" y="252.70" font-size="26.6" text-anchor="end" fill="#231f20">1.5</text>
<text x="129.5" y="148.65" font-size="26.6" text-anchor="end" fill="#231f20">2.0</text>
<text x="129.5" y="44.25" font-size="26.6" text-anchor="end" fill="#231f20">2.5</text>
<text transform="translate(64.6,280.4) rotate(-90)" font-size="27.1" text-anchor="middle" fill="#231f20">Relative fatty acid levels</text>
<text transform="translate(199.10,593.60) rotate(-45)" font-size="27.8" text-anchor="end" fill="#231f20">Palmitic</text>
<text transform="translate(284.64,593.60) rotate(-45)" font-size="27.8" text-anchor="end" fill="#231f20">Stearic</text>
<text transform="translate(370.18,593.60) rotate(-45)" font-size="27.8" text-anchor="end" fill="#231f20">Palmitoleic</text>
<text transform="translate(455.72,593.60) rotate(-45)" font-size="27.8" text-anchor="end" fill="#231f20">Cis-vaccenic</text>
<text transform="translate(541.26,593.60) rotate(-45)" font-size="27.8" text-anchor="end" fill="#231f20">Oleic</text>
<text transform="translate(626.80,593.60) rotate(-45)" font-size="27.8" text-anchor="end" fill="#231f20">Linoleic</text>
<text transform="translate(712.34,593.60) rotate(-45)" font-size="27.8" text-anchor="end" fill="#231f20">Alpha-linoleic</text>
<text transform="translate(797.88,593.60) rotate(-45)" font-size="27.8" text-anchor="end" fill="#231f20">Gamma-linoleic</text>
<text transform="translate(883.42,593.60) rotate(-45)" font-size="27.8" text-anchor="end" fill="#231f20">Dihomo-gamma linoleic</text>
<text transform="translate(968.96,593.60) rotate(-45)" font-size="27.8" text-anchor="end" fill="#231f20">Arachidonic</text>
<text transform="translate(1054.50,593.60) rotate(-45)" font-size="27.8" text-anchor="end" fill="#231f20">Eicosapentaenoic</text>
<path d="M163.4 705.2H265.3M288.8 741H518M572 806.5H1127.7" stroke="#8a8a8a" stroke-width="3.1" fill="none"/>
<text x="214.3" y="740.9" font-size="27.6" text-anchor="middle" fill="#222">SFAs</text>
<text x="403.4" y="771.7" font-size="27.6" text-anchor="middle" fill="#222">MUFAs</text>
<text x="849.9" y="837.4" font-size="27.6" text-anchor="middle" fill="#222">PUFAs</text>
<rect x="165" y="34.2" width="28" height="21.4" fill="#898d8a"/>
<rect x="165" y="67.7" width="28" height="21.1" fill="#f19332"/>
<rect x="165" y="102.2" width="28" height="21.4" fill="#335fa9"/>
<rect x="165" y="136.0" width="28" height="21.2" fill="#a57848"/>
<text x="200.5" y="53.2" font-size="25.4" fill="#231f20">wild type</text>
<text x="200.5" y="85.5" font-size="25.4" font-style="italic" fill="#231f20">set-2</text>
<text x="200.5" y="122" font-size="25.4" font-style="italic" fill="#231f20">crtc-1<tspan font-size="16.5" dy="-9.5">null</tspan></text>
<text x="200.5" y="153.5" font-size="25.4" font-style="italic" fill="#231f20">crtc-1<tspan font-size="16.5" dy="-9.5">null</tspan><tspan dy="9.5">;set-2</tspan></text>
<text x="312.5" y="187.2" font-size="21.3" textLength="60.4" lengthAdjust="spacingAndGlyphs" fill="#231f20">0.0384</text>
<text x="409.3" y="179.7" font-size="21.3" textLength="58.8" lengthAdjust="spacingAndGlyphs" fill="#231f20">0.0031</text>
<path d="M329.6 190.1H369.7M414.1 183.6H437.3" stroke="#000" stroke-width="1.1"/>
<text x="776.3" y="118.5" font-size="28" font-weight="bold" text-anchor="middle" fill="#231f20">*</text>
</g>
<g font-family="'Liberation Sans', Arial, Helvetica, sans-serif">
<text x="1220" y="43.2" font-size="49" font-weight="bold" fill="#231f20">b</text>
<rect x="1249.8" y="69.3" width="603.7" height="596.7" fill="#fff"/>
<path d="M1386.55 69.3V666.0M1582.85 69.3V666.0M1779.15 69.3V666.0M1249.8 219.20H1853.5M1249.8 405.20H1853.5M1249.8 591.20H1853.5" stroke="#ebebeb" stroke-width="1.6" fill="none"/>
<path d="M1288.40 69.3V666.0M1484.70 69.3V666.0M1681.00 69.3V666.0M1249.8 126.20H1853.5M1249.8 312.20H1853.5M1249.8 498.20H1853.5" stroke="#e8e8e8" stroke-width="3.2" fill="none"/>
<circle cx="1304.6" cy="112.5" r="6.2" fill="#9a7bbd"/>
<circle cx="1288.4" cy="149.9" r="6.2" fill="#9a7bbd"/>
<circle cx="1339.7" cy="237.8" r="6.2" fill="#9a7bbd"/>
<circle cx="1402.4" cy="299.0" r="6.2" fill="#9a7bbd"/>
<circle cx="1277.0" cy="205.7" r="6.2" fill="#e8625e"/>
<circle cx="1328.0" cy="225.4" r="6.2" fill="#e8625e"/>
<circle cx="1311.0" cy="288.4" r="6.2" fill="#e8625e"/>
<circle cx="1400.1" cy="433.8" r="6.2" fill="#e8625e"/>
<circle cx="1719.8" cy="95.5" r="6.2" fill="#66ab46"/>
<circle cx="1778.4" cy="159.3" r="6.2" fill="#66ab46"/>
<circle cx="1826.7" cy="249.5" r="6.2" fill="#66ab46"/>
<circle cx="1808.5" cy="295.2" r="6.2" fill="#66ab46"/>
<circle cx="1481.6" cy="513.1" r="6.2" fill="#14b2bb"/>
<circle cx="1459.4" cy="546.7" r="6.2" fill="#14b2bb"/>
<circle cx="1469.5" cy="546.7" r="6.2" fill="#14b2bb"/>
<circle cx="1555.6" cy="639.9" r="6.2" fill="#14b2bb"/>
<rect x="1249.8" y="69.3" width="603.7" height="596.7" fill="none" stroke="#262626" stroke-width="2.0"/>
<path d="M1245.5 126.20H1249.8M1245.5 312.20H1249.8M1245.5 498.20H1249.8M1288.40 666.0V671.4M1484.70 666.0V671.4M1681.00 666.0V671.4" stroke="#333" stroke-width="2.8" fill="none"/>
<text x="1242" y="131.50" font-size="22" text-anchor="end" fill="#4d4d4d">5</text>
<text x="1242" y="317.50" font-size="22" text-anchor="end" fill="#4d4d4d">0</text>
<text x="1242" y="503.50" font-size="22" text-anchor="end" fill="#4d4d4d">-5</text>
<text x="1288.40" y="690.4" font-size="22" text-anchor="middle" fill="#4d4d4d">-10</text>
<text x="1486.20" y="690.4" font-size="22" text-anchor="middle" fill="#4d4d4d">0</text>
<text x="1681.00" y="690.4" font-size="22" text-anchor="middle" fill="#4d4d4d">10</text>
<text x="1439.4" y="725.9" font-size="32" textLength="255.7" lengthAdjust="spacingAndGlyphs" fill="#000">PC1: 48% variance</text>
<text transform="translate(1204.0,504.5) rotate(-90)" font-size="33.5" textLength="315.5" lengthAdjust="spacingAndGlyphs" fill="#000">PC2: 10% variance</text>
<circle cx="1887.7" cy="107.6" r="8.8" fill="#9a7bbd"/>
<circle cx="1887.7" cy="158.3" r="8.8" fill="#e8625e"/>
<circle cx="1887.7" cy="208.5" r="8.8" fill="#66ab46"/>
<circle cx="1887.7" cy="259.2" r="8.8" fill="#14b2bb"/>
<text x="1907.9" y="115" font-size="28.7" fill="#000">wild type</text>
<text x="1907.9" y="165.2" font-size="28.7" font-style="italic" fill="#000">crtc-1<tspan font-size="12.8" dy="-10" dx="-0.5">CBD-/-</tspan></text>
<text x="1907.9" y="215.2" font-size="28.7" font-style="italic" fill="#000">set-2</text>
<text x="1907.9" y="265.7" font-size="28.7" font-style="italic" fill="#000">crtc-1<tspan font-size="12.8" dy="-10" dx="-0.5">CBD-/-</tspan><tspan dy="10">;set-2</tspan></text>
</g>
<g font-family="'Liberation Sans', Arial, Helvetica, sans-serif">
<text x="151" y="905.7" font-size="50" font-weight="bold" fill="#231f20">c</text>
<path d="M799.2 898.90H1902.4M799.2 922.50H1902.4M799.2 946.10H1902.4M799.2 969.70H1902.4M799.2 993.30H1902.4M799.2 1016.90H1902.4M799.2 1040.50H1902.4M799.2 1064.10H1902.4M799.2 1087.70H1902.4M799.2 1111.30H1902.4M799.2 1134.90H1902.4M799.2 1158.50H1902.4M799.2 1182.10H1902.4M799.2 1205.70H1902.4M799.2 1229.30H1902.4M799.2 1252.90H1902.4M799.2 1276.50H1902.4M799.2 1300.10H1902.4M799.2 1323.70H1902.4M799.2 1347.30H1902.4M799.2 1370.90H1902.4M799.2 1394.50H1902.4M799.2 1418.10H1902.4M799.2 1441.70H1902.4M799.2 1465.30H1902.4M799.2 1488.90H1902.4M799.2 1512.50H1902.4M799.2 1536.10H1902.4M799.2 1559.70H1902.4M799.2 1583.30H1902.4M799.2 1606.90H1902.4M799.2 1630.50H1902.4M799.2 1654.10H1902.4M799.2 1677.70H1902.4M799.2 1701.30H1902.4M799.2 1724.90H1902.4M799.2 1748.50H1902.4M799.2 1772.10H1902.4M799.2 1795.70H1902.4M799.2 1819.30H1902.4M799.2 1842.90H1902.4M799.2 1866.50H1902.4M799.2 1890.10H1902.4M799.2 1913.70H1902.4M799.2 1937.30H1902.4M799.2 1960.90H1902.4M799.2 1984.50H1902.4M799.2 2008.10H1902.4M799.2 2031.70H1902.4M799.2 2055.30H1902.4M799.2 2078.90H1902.4M799.2 2102.50H1902.4M799.2 2126.10H1902.4M905.00 885.3V2139.2M1083.30 885.3V2139.2M1261.60 885.3V2139.2M1439.90 885.3V2139.2M1618.20 885.3V2139.2M1796.50 885.3V2139.2" stroke="#e5e5e5" stroke-width="3.6" fill="none"/>
<circle cx="905.00" cy="898.90" r="12.15" fill="#ea2137"/>
<circle cx="905.00" cy="922.50" r="12.15" fill="#ea2137"/>
<circle cx="905.00" cy="946.10" r="12.45" fill="#ea2137"/>
<circle cx="905.00" cy="969.70" r="12.75" fill="#ea2137"/>
<circle cx="905.00" cy="993.30" r="13.05" fill="#ea2137"/>
<circle cx="905.00" cy="1016.90" r="11.30" fill="#ea2137"/>
<circle cx="905.00" cy="1040.50" r="12.45" fill="#ea2137"/>
<circle cx="905.00" cy="1064.10" r="10.85" fill="#ea2137"/>
<circle cx="905.00" cy="1087.70" r="10.85" fill="#ea2137"/>
<circle cx="905.00" cy="1111.30" r="11.45" fill="#ea2137"/>
<circle cx="905.00" cy="1134.90" r="10.85" fill="#ea2137"/>
<circle cx="905.00" cy="1158.50" r="11.60" fill="#ea2137"/>
<circle cx="905.00" cy="1182.10" r="12.45" fill="#ea2137"/>
<circle cx="905.00" cy="1205.70" r="10.10" fill="#ea2137"/>
<circle cx="905.00" cy="1229.30" r="11.90" fill="#ea2137"/>
<circle cx="905.00" cy="1252.90" r="11.45" fill="#ea2137"/>
<circle cx="905.00" cy="1276.50" r="11.30" fill="#ea2137"/>
<circle cx="905.00" cy="1300.10" r="12.45" fill="#ea2137"/>
<circle cx="905.00" cy="1323.70" r="11.90" fill="#ea2137"/>
<circle cx="905.00" cy="1347.30" r="10.70" fill="#ea2137"/>
<circle cx="905.00" cy="1370.90" r="12.45" fill="#ea2137"/>
<circle cx="905.00" cy="1394.50" r="11.90" fill="#ea2137"/>
<circle cx="905.00" cy="1418.10" r="12.30" fill="#ea2137"/>
<circle cx="905.00" cy="1441.70" r="9.05" fill="#ea2137"/>
<circle cx="905.00" cy="1465.30" r="9.05" fill="#ea2137"/>
<circle cx="905.00" cy="1488.90" r="7.40" fill="#ea2137"/>
<circle cx="905.00" cy="1512.50" r="12.15" fill="#ea2137"/>
<circle cx="905.00" cy="1536.10" r="8.30" fill="#ea2137"/>
<circle cx="905.00" cy="1559.70" r="8.90" fill="#ea2137"/>
<circle cx="905.00" cy="1583.30" r="8.90" fill="#ea2137"/>
<circle cx="905.00" cy="1606.90" r="11.15" fill="#ea2137"/>
<circle cx="905.00" cy="1630.50" r="10.10" fill="#ea2137"/>
<circle cx="905.00" cy="1654.10" r="7.15" fill="#ea2137"/>
<circle cx="905.00" cy="1677.70" r="7.15" fill="#ea2137"/>
<circle cx="905.00" cy="1701.30" r="5.80" fill="#ea2137"/>
<circle cx="905.00" cy="1724.90" r="5.20" fill="#cd178b"/>
<circle cx="905.00" cy="1748.50" r="4.75" fill="#7e3d95"/>
<circle cx="905.00" cy="1772.10" r="4.75" fill="#7e3d95"/>
<circle cx="905.00" cy="1795.70" r="7.40" fill="#3f5aa6"/>
<circle cx="905.00" cy="1819.30" r="7.40" fill="#3f5aa6"/>
<circle cx="1083.30" cy="1512.50" r="18.10" fill="#ea2137"/>
<circle cx="1083.30" cy="1606.90" r="17.20" fill="#ea2137"/>
<circle cx="1083.30" cy="1795.70" r="13.65" fill="#ea2137"/>
<circle cx="1083.30" cy="1819.30" r="13.65" fill="#ea2137"/>
<circle cx="1083.30" cy="1842.90" r="17.65" fill="#ea2137"/>
<circle cx="1083.30" cy="1866.50" r="15.25" fill="#ea2137"/>
<circle cx="1083.30" cy="1890.10" r="15.25" fill="#ea2137"/>
<circle cx="1083.30" cy="1913.70" r="15.95" fill="#ea2137"/>
<circle cx="1083.30" cy="1937.30" r="15.95" fill="#ea2137"/>
<circle cx="1083.30" cy="1960.90" r="15.95" fill="#ea2137"/>
<circle cx="1083.30" cy="1984.50" r="15.40" fill="#ea2137"/>
<circle cx="1083.30" cy="2008.10" r="15.40" fill="#ea2137"/>
<circle cx="1083.30" cy="2031.70" r="15.60" fill="#ea2137"/>
<circle cx="1083.30" cy="2055.30" r="15.60" fill="#ea2137"/>
<circle cx="1083.30" cy="2078.90" r="13.55" fill="#ea2137"/>
<circle cx="1261.60" cy="898.90" r="13.50" fill="#ea2137"/>
<circle cx="1261.60" cy="922.50" r="13.50" fill="#ea2137"/>
<circle cx="1261.60" cy="946.10" r="13.95" fill="#ea2137"/>
<circle cx="1261.60" cy="969.70" r="14.10" fill="#ea2137"/>
<circle cx="1261.60" cy="993.30" r="13.50" fill="#ea2137"/>
<circle cx="1261.60" cy="1016.90" r="10.55" fill="#ea2137"/>
<circle cx="1261.60" cy="1064.10" r="10.55" fill="#7e3d95"/>
<circle cx="1261.60" cy="1087.70" r="10.55" fill="#5b4c9e"/>
<circle cx="1261.60" cy="1111.30" r="11.85" fill="#ea2137"/>
<circle cx="1261.60" cy="1158.50" r="11.15" fill="#cd178b"/>
<circle cx="1261.60" cy="1205.70" r="9.65" fill="#e01d64"/>
<circle cx="1261.60" cy="1229.30" r="11.85" fill="#ea2137"/>
<circle cx="1261.60" cy="1252.90" r="11.25" fill="#d71b7e"/>
<circle cx="1261.60" cy="1276.50" r="11.15" fill="#d71b7e"/>
<circle cx="1261.60" cy="1300.10" r="13.35" fill="#ea2137"/>
<circle cx="1261.60" cy="1323.70" r="12.60" fill="#ea2137"/>
<circle cx="1261.60" cy="1347.30" r="10.55" fill="#ea2137"/>
<circle cx="1261.60" cy="1370.90" r="12.45" fill="#d71b7e"/>
<circle cx="1261.60" cy="1394.50" r="11.70" fill="#e01d64"/>
<circle cx="1261.60" cy="1418.10" r="12.45" fill="#d71b7e"/>
<circle cx="1261.60" cy="1441.70" r="9.20" fill="#e41f4e"/>
<circle cx="1261.60" cy="1465.30" r="8.95" fill="#e01d64"/>
<circle cx="1261.60" cy="1488.90" r="8.10" fill="#ea2137"/>
<circle cx="1261.60" cy="1512.50" r="13.05" fill="#ea2137"/>
<circle cx="1261.60" cy="1536.10" r="9.50" fill="#ea2137"/>
<circle cx="1261.60" cy="1559.70" r="10.20" fill="#ea2137"/>
<circle cx="1261.60" cy="1583.30" r="10.20" fill="#ea2137"/>
<circle cx="1261.60" cy="1606.90" r="11.60" fill="#ea2137"/>
<circle cx="1261.60" cy="1630.50" r="11.10" fill="#ea2137"/>
<circle cx="1261.60" cy="1654.10" r="8.10" fill="#ea2137"/>
<circle cx="1261.60" cy="1677.70" r="8.80" fill="#ea2137"/>
<circle cx="1261.60" cy="1701.30" r="7.40" fill="#ea2137"/>
<circle cx="1261.60" cy="1724.90" r="7.40" fill="#ea2137"/>
<circle cx="1261.60" cy="1748.50" r="7.20" fill="#ea2137"/>
<circle cx="1261.60" cy="1772.10" r="7.20" fill="#ea2137"/>
<circle cx="1261.60" cy="1842.90" r="12.30" fill="#ea2137"/>
<circle cx="1261.60" cy="1866.50" r="9.70" fill="#cd178b"/>
<circle cx="1261.60" cy="1890.10" r="9.70" fill="#b81f8d"/>
<circle cx="1261.60" cy="1913.70" r="11.25" fill="#ea2137"/>
<circle cx="1261.60" cy="1937.30" r="11.25" fill="#ea2137"/>
<circle cx="1261.60" cy="1960.90" r="11.25" fill="#ea2137"/>
<circle cx="1261.60" cy="1984.50" r="10.00" fill="#3f5aa6"/>
<circle cx="1261.60" cy="2008.10" r="10.00" fill="#7e3d95"/>
<circle cx="1261.60" cy="2031.70" r="10.00" fill="#7e3d95"/>
<circle cx="1261.60" cy="2055.30" r="10.00" fill="#7e3d95"/>
<circle cx="1261.60" cy="2102.50" r="6.85" fill="#ea2137"/>
<circle cx="1261.60" cy="2126.10" r="6.85" fill="#ea2137"/>
<circle cx="1439.90" cy="898.90" r="13.80" fill="#ea2137"/>
<circle cx="1439.90" cy="922.50" r="13.80" fill="#ea2137"/>
<circle cx="1439.90" cy="946.10" r="13.80" fill="#ea2137"/>
<circle cx="1439.90" cy="969.70" r="14.25" fill="#ea2137"/>
<circle cx="1439.90" cy="993.30" r="13.20" fill="#ea2137"/>
<circle cx="1439.90" cy="1016.90" r="12.45" fill="#ea2137"/>
<circle cx="1439.90" cy="1040.50" r="12.75" fill="#ea2137"/>
<circle cx="1439.90" cy="1064.10" r="11.30" fill="#ea2137"/>
<circle cx="1439.90" cy="1087.70" r="11.30" fill="#ea2137"/>
<circle cx="1439.90" cy="1111.30" r="11.85" fill="#ea2137"/>
<circle cx="1439.90" cy="1134.90" r="11.40" fill="#ea2137"/>
<circle cx="1439.90" cy="1158.50" r="12.15" fill="#ea2137"/>
<circle cx="1439.90" cy="1182.10" r="13.05" fill="#ea2137"/>
<circle cx="1439.90" cy="1205.70" r="11.30" fill="#ea2137"/>
<circle cx="1439.90" cy="1229.30" r="12.00" fill="#ea2137"/>
<circle cx="1439.90" cy="1252.90" r="12.00" fill="#ea2137"/>
<circle cx="1439.90" cy="1276.50" r="12.00" fill="#ea2137"/>
<circle cx="1439.90" cy="1300.10" r="12.00" fill="#e01d64"/>
<circle cx="1439.90" cy="1347.30" r="11.30" fill="#ea2137"/>
<circle cx="1439.90" cy="1370.90" r="13.05" fill="#ea2137"/>
<circle cx="1439.90" cy="1394.50" r="12.90" fill="#ea2137"/>
<circle cx="1439.90" cy="1418.10" r="12.90" fill="#ea2137"/>
<circle cx="1439.90" cy="1441.70" r="10.10" fill="#ea2137"/>
<circle cx="1439.90" cy="1465.30" r="10.45" fill="#ea2137"/>
<circle cx="1439.90" cy="1488.90" r="8.45" fill="#ea2137"/>
<circle cx="1439.90" cy="1512.50" r="13.20" fill="#ea2137"/>
<circle cx="1439.90" cy="1606.90" r="11.95" fill="#ea2137"/>
<circle cx="1618.20" cy="898.90" r="12.60" fill="#ea2137"/>
<circle cx="1618.20" cy="922.50" r="12.60" fill="#ea2137"/>
<circle cx="1618.20" cy="946.10" r="12.60" fill="#ea2137"/>
<circle cx="1618.20" cy="969.70" r="12.90" fill="#ea2137"/>
<circle cx="1618.20" cy="993.30" r="12.90" fill="#ea2137"/>
<circle cx="1618.20" cy="1016.90" r="11.15" fill="#ea2137"/>
<circle cx="1618.20" cy="1040.50" r="12.15" fill="#ea2137"/>
<circle cx="1618.20" cy="1064.10" r="10.55" fill="#ea2137"/>
<circle cx="1618.20" cy="1087.70" r="10.55" fill="#ea2137"/>
<circle cx="1618.20" cy="1111.30" r="11.40" fill="#ea2137"/>
<circle cx="1618.20" cy="1134.90" r="10.85" fill="#ea2137"/>
<circle cx="1618.20" cy="1158.50" r="11.40" fill="#ea2137"/>
<circle cx="1618.20" cy="1182.10" r="12.15" fill="#ea2137"/>
<circle cx="1618.20" cy="1205.70" r="9.95" fill="#ea2137"/>
<circle cx="1618.20" cy="1229.30" r="11.55" fill="#ea2137"/>
<circle cx="1618.20" cy="1252.90" r="11.40" fill="#ea2137"/>
<circle cx="1618.20" cy="1276.50" r="11.40" fill="#ea2137"/>
<circle cx="1618.20" cy="1300.10" r="12.60" fill="#ea2137"/>
<circle cx="1618.20" cy="1323.70" r="12.00" fill="#ea2137"/>
<circle cx="1618.20" cy="1347.30" r="10.55" fill="#ea2137"/>
<circle cx="1618.20" cy="1370.90" r="12.75" fill="#ea2137"/>
<circle cx="1618.20" cy="1394.50" r="11.55" fill="#ea2137"/>
<circle cx="1618.20" cy="1418.10" r="12.60" fill="#ea2137"/>
<circle cx="1618.20" cy="1441.70" r="9.20" fill="#ea2137"/>
<circle cx="1618.20" cy="1465.30" r="9.35" fill="#ea2137"/>
<circle cx="1618.20" cy="1488.90" r="7.55" fill="#ea2137"/>
<circle cx="1618.20" cy="1512.50" r="12.30" fill="#ea2137"/>
<circle cx="1618.20" cy="1536.10" r="7.90" fill="#ea2137"/>
<circle cx="1618.20" cy="1559.70" r="8.80" fill="#ea2137"/>
<circle cx="1618.20" cy="1583.30" r="9.00" fill="#ea2137"/>
<circle cx="1618.20" cy="1606.90" r="10.90" fill="#ea2137"/>
<circle cx="1618.20" cy="1630.50" r="9.85" fill="#ea2137"/>
<circle cx="1618.20" cy="1654.10" r="7.05" fill="#ea2137"/>
<circle cx="1618.20" cy="1677.70" r="7.40" fill="#e41f4e"/>
<circle cx="1618.20" cy="1701.30" r="5.80" fill="#ea2137"/>
<circle cx="1618.20" cy="1724.90" r="5.30" fill="#cd178b"/>
<circle cx="1618.20" cy="1748.50" r="4.95" fill="#7e3d95"/>
<circle cx="1618.20" cy="1772.10" r="4.95" fill="#7e3d95"/>
<circle cx="1796.50" cy="898.90" r="13.65" fill="#ea2137"/>
<circle cx="1796.50" cy="922.50" r="13.65" fill="#ea2137"/>
<circle cx="1796.50" cy="946.10" r="13.65" fill="#ea2137"/>
<circle cx="1796.50" cy="969.70" r="13.95" fill="#ea2137"/>
<circle cx="1796.50" cy="993.30" r="13.65" fill="#ea2137"/>
<circle cx="1796.50" cy="1040.50" r="12.15" fill="#5b4c9e"/>
<circle cx="1796.50" cy="1111.30" r="11.70" fill="#ea2137"/>
<circle cx="1796.50" cy="1229.30" r="11.85" fill="#d71b7e"/>
<circle cx="1796.50" cy="1252.90" r="11.30" fill="#cd178b"/>
<circle cx="1796.50" cy="1276.50" r="11.30" fill="#e01d64"/>
<circle cx="1796.50" cy="1300.10" r="13.35" fill="#ea2137"/>
<circle cx="1796.50" cy="1323.70" r="12.75" fill="#ea2137"/>
<circle cx="1796.50" cy="1347.30" r="10.85" fill="#ea2137"/>
<circle cx="1796.50" cy="1441.70" r="9.35" fill="#e41f4e"/>
<circle cx="1796.50" cy="1465.30" r="9.55" fill="#e41f4e"/>
<circle cx="1796.50" cy="1488.90" r="7.90" fill="#e41f4e"/>
<circle cx="1796.50" cy="1536.10" r="9.70" fill="#ea2137"/>
<circle cx="1796.50" cy="1559.70" r="9.70" fill="#ea2137"/>
<circle cx="1796.50" cy="1583.30" r="9.70" fill="#ea2137"/>
<circle cx="1796.50" cy="1630.50" r="11.80" fill="#ea2137"/>
<circle cx="1796.50" cy="1654.10" r="8.65" fill="#ea2137"/>
<circle cx="1796.50" cy="1677.70" r="8.65" fill="#ea2137"/>
<circle cx="1796.50" cy="1701.30" r="7.75" fill="#ea2137"/>
<circle cx="1796.50" cy="1724.90" r="7.75" fill="#ea2137"/>
<circle cx="1796.50" cy="1748.50" r="7.75" fill="#ea2137"/>
<circle cx="1796.50" cy="1772.10" r="7.75" fill="#ea2137"/>
<circle cx="1796.50" cy="2102.50" r="7.40" fill="#ea2137"/>
<circle cx="1796.50" cy="2126.10" r="7.40" fill="#ea2137"/>
<rect x="799.2" y="885.3" width="1103.2" height="1253.9" fill="none" stroke="#333" stroke-width="2.1"/>
<path d="M791.2 898.90H799.2M791.2 922.50H799.2M791.2 946.10H799.2M791.2 969.70H799.2M791.2 993.30H799.2M791.2 1016.90H799.2M791.2 1040.50H799.2M791.2 1064.10H799.2M791.2 1087.70H799.2M791.2 1111.30H799.2M791.2 1134.90H799.2M791.2 1158.50H799.2M791.2 1182.10H799.2M791.2 1205.70H799.2M791.2 1229.30H799.2M791.2 1252.90H799.2M791.2 1276.50H799.2M791.2 1300.10H799.2M791.2 1323.70H799.2M791.2 1347.30H799.2M791.2 1370.90H799.2M791.2 1394.50H799.2M791.2 1418.10H799.2M791.2 1441.70H799.2M791.2 1465.30H799.2M791.2 1488.90H799.2M791.2 1512.50H799.2M791.2 1536.10H799.2M791.2 1559.70H799.2M791.2 1583.30H799.2M791.2 1606.90H799.2M791.2 1630.50H799.2M791.2 1654.10H799.2M791.2 1677.70H799.2M791.2 1701.30H799.2M791.2 1724.90H799.2M791.2 1748.50H799.2M791.2 1772.10H799.2M791.2 1795.70H799.2M791.2 1819.30H799.2M791.2 1842.90H799.2M791.2 1866.50H799.2M791.2 1890.10H799.2M791.2 1913.70H799.2M791.2 1937.30H799.2M791.2 1960.90H799.2M791.2 1984.50H799.2M791.2 2008.10H799.2M791.2 2031.70H799.2M791.2 2055.30H799.2M791.2 2078.90H799.2M791.2 2102.50H799.2M791.2 2126.10H799.2M905.00 2139.2V2146M1083.30 2139.2V2146M1261.60 2139.2V2146M1439.90 2139.2V2146M1618.20 2139.2V2146M1796.50 2139.2V2146" stroke="#333" stroke-width="3.2" fill="none"/>
<g font-size="29.75" text-anchor="end" fill="#000"><text x="785.5" y="909.50">translation</text><text x="785.5" y="933.10">peptide biosynthetic process</text><text x="785.5" y="956.70">amide biosynthetic process</text><text x="785.5" y="980.30">peptide metabolic process</text><text x="785.5" y="1003.90">embryo development</text><text x="785.5" y="1027.50">ribonucleoprotein complex biogenesis</text><text x="785.5" y="1051.10">cell cycle process</text><text x="785.5" y="1074.70">cell division</text><text x="785.5" y="1098.30">mitotic cell cycle process</text><text x="785.5" y="1121.90">embryo development ending in birth or egg hatching</text><text x="785.5" y="1145.50">ncRNA metabolic process</text><text x="785.5" y="1169.10">mitotic cell cycle</text><text x="785.5" y="1192.70">RNA processing</text><text x="785.5" y="1216.30">ribosome biogenesis</text><text x="785.5" y="1239.90">cytoskeleton organization</text><text x="785.5" y="1263.50">multi−organism reproductive process</text><text x="785.5" y="1287.10">sexual reproduction</text><text x="785.5" y="1310.70">cell development</text><text x="785.5" y="1334.30">animal organ development</text><text x="785.5" y="1357.90">gamete generation</text><text x="785.5" y="1381.50">regulation of protein metabolic process</text><text x="785.5" y="1405.10">cellular protein−containing complex assembly</text><text x="785.5" y="1428.70">regulation of cellular protein metabolic process</text><text x="785.5" y="1452.30">ribonucleoprotein complex assembly</text><text x="785.5" y="1475.90">ribonucleoprotein complex subunit organization</text><text x="785.5" y="1499.50">cytoplasmic translation</text><text x="785.5" y="1523.10">macromolecule catabolic process</text><text x="785.5" y="1546.70">muscle structure development</text><text x="785.5" y="1570.30">anatomical structure formation involved in morphogenesis</text><text x="785.5" y="1593.90">animal organ morphogenesis</text><text x="785.5" y="1617.50">protein catabolic process</text><text x="785.5" y="1641.10">cellular component morphogenesis</text><text x="785.5" y="1664.70">striated muscle cell differentiation</text><text x="785.5" y="1688.30">muscle cell differentiation</text><text x="785.5" y="1711.90">regulation of muscle cell differentiation</text><text x="785.5" y="1735.50">regulation of striated muscle cell differentiation</text><text x="785.5" y="1759.10">positive regulation of muscle cell differentiation</text><text x="785.5" y="1782.70">positive regulation of striated muscle cell differentiation</text><text x="785.5" y="1806.30">purine nucleoside monophosphate biosynthetic process</text><text x="785.5" y="1829.90">purine ribonucleoside monophosphate biosynthetic process</text><text x="785.5" y="1853.50">defense response</text><text x="785.5" y="1877.10">defense response to bacterium</text><text x="785.5" y="1900.70">response to bacterium</text><text x="785.5" y="1924.30">innate immune response</text><text x="785.5" y="1947.90">immune response</text><text x="785.5" y="1971.50">immune system process</text><text x="785.5" y="1995.10">defense response to other organism</text><text x="785.5" y="2018.70">response to biotic stimulus</text><text x="785.5" y="2042.30">response to external biotic stimulus</text><text x="785.5" y="2065.90">response to other organism</text><text x="785.5" y="2089.50">defense response to Gram−positive bacterium</text><text x="785.5" y="2113.10">regulation of sarcomere organization</text><text x="785.5" y="2136.70">positive regulation of sarcomere organization</text></g>
<g font-size="25.0" fill="#000"><text x="905.80" y="2176.40" text-anchor="middle">wild type</text><text x="905.80" y="2206.70" text-anchor="middle" font-weight="bold">vs</text><text x="905.80" y="2236.10" text-anchor="middle" font-style="italic">set-2</text><text x="1084.10" y="2173.90" text-anchor="middle">wild type</text><text x="1084.10" y="2204.30" text-anchor="middle" font-weight="bold">vs</text><text x="1084.10" y="2233.70" text-anchor="middle"><tspan font-style="italic">crtc-1</tspan><tspan font-style="italic" font-size="11.2" dy="-14.5" dx="1.5">CBD-/-</tspan></text><text x="1262.40" y="2173.90" text-anchor="middle">wild type</text><text x="1262.40" y="2204.30" text-anchor="middle" font-weight="bold">vs</text><text x="1262.40" y="2233.70" text-anchor="middle"><tspan font-style="italic">crtc-1</tspan><tspan font-style="italic" font-size="11.2" dy="-14.5" dx="1.5">CBD-/-</tspan><tspan font-style="italic" dy="14.5">;set-2</tspan></text><text x="1440.70" y="2174.60" text-anchor="middle" font-style="italic">set-2</text><text x="1440.70" y="2204.80" text-anchor="middle" font-weight="bold">vs</text><text x="1440.70" y="2234.10" text-anchor="middle"><tspan font-style="italic">crtc-1</tspan><tspan font-style="italic" font-size="11.2" dy="-14.5" dx="1.5">CBD-/-</tspan><tspan font-style="italic" dy="14.5">;set-2</tspan></text><text x="1619.00" y="2174.60" text-anchor="middle"><tspan font-style="italic">crtc-1</tspan><tspan font-style="italic" font-size="11.2" dy="-14.5" dx="1.5">CBD-/-</tspan></text><text x="1619.00" y="2204.80" text-anchor="middle" font-weight="bold">vs</text><text x="1619.00" y="2234.10" text-anchor="middle" font-style="italic">set-2</text><text x="1797.30" y="2176.70" text-anchor="middle"><tspan font-style="italic">crtc-1</tspan><tspan font-style="italic" font-size="11.2" dy="-14.5" dx="1.5">CBD-/-</tspan></text><text x="1797.30" y="2205.80" text-anchor="middle" font-weight="bold">vs</text><text x="1797.30" y="2236.50" text-anchor="middle"><tspan font-style="italic">crtc-1</tspan><tspan font-style="italic" font-size="11.2" dy="-14.5" dx="1.5">CBD-/-</tspan><tspan font-style="italic" dy="14.5">;set-2</tspan></text></g>
<defs><linearGradient id="pg" x1="0" y1="0" x2="0" y2="1"><stop offset="0" stop-color="#e61e2d"/><stop offset="0.2" stop-color="#ea1f45"/><stop offset="0.36" stop-color="#e3176a"/><stop offset="0.48" stop-color="#d5117f"/><stop offset="0.58" stop-color="#c01888"/><stop offset="0.68" stop-color="#9c2a8a"/><stop offset="0.78" stop-color="#7a3e90"/><stop offset="0.88" stop-color="#5a4d9c"/><stop offset="1" stop-color="#3e5da8"/></linearGradient></defs>
<text x="1944.6" y="1275" font-size="26.8" fill="#000">p.adjust</text>
<rect x="1944.1" y="1291.6" width="43.4" height="215.3" fill="url(#pg)"/>
<path d="M1944.1 1339.0H1953M1978.6 1339.0H1987.5M1944.1 1386.8H1953M1978.6 1386.8H1987.5M1944.1 1434.5H1953M1978.6 1434.5H1987.5M1944.1 1481.7H1953M1978.6 1481.7H1987.5" stroke="#fff" stroke-width="1.3" fill="none"/>
<text x="2000.4" y="1346.8" font-size="21.5" fill="#000">0.01</text>
<text x="2000.4" y="1394.6" font-size="21.5" fill="#000">0.02</text>
<text x="2000.4" y="1442.3" font-size="21.5" fill="#000">0.03</text>
<text x="2000.4" y="1489.5" font-size="21.5" fill="#000">0.04</text>
<text x="1944.9" y="1583.9" font-size="27.2" fill="#000">GeneRatio</text>
<circle cx="1965.5" cy="1621.8" r="11.0" fill="#000"/>
<text x="2001.2" y="1629.6" font-size="21.8" fill="#000">0.05</text>
<circle cx="1965.5" cy="1664.7" r="13.6" fill="#000"/>
<text x="2001.2" y="1672.5" font-size="21.8" fill="#000">0.10</text>
<circle cx="1965.5" cy="1707.8" r="15.6" fill="#000"/>
<text x="2001.2" y="1715.6" font-size="21.8" fill="#000">0.15</text>
<circle cx="1965.5" cy="1751.0" r="17.3" fill="#000"/>
<text x="2001.2" y="1758.8" font-size="21.8" fill="#000">0.20</text>
</g>
</svg>
</body></html>
